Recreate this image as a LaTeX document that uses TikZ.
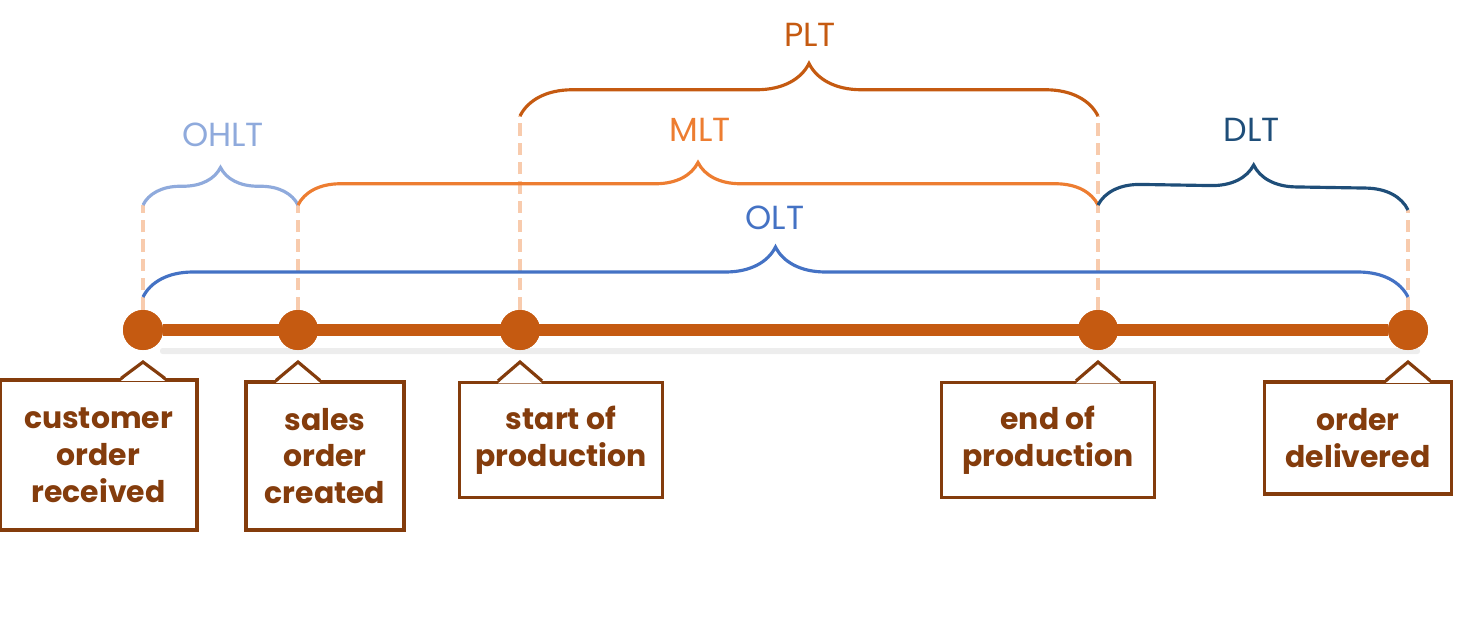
\documentclass[tikz,border=0pt]{standalone}
\usepackage{fontspec}
\setmainfont{Poppins}
\usetikzlibrary{calc,positioning,decorations.pathreplacing}
\definecolor{tline}{HTML}{C55A11}
\definecolor{tbox}{HTML}{843C0C}
\definecolor{peach}{HTML}{F8CBAD}
\definecolor{ohlt}{HTML}{8FAADC}
\definecolor{mlt}{HTML}{ED7D31}
\definecolor{plt}{HTML}{C55A11}
\definecolor{dlt}{HTML}{1F4E79}
\definecolor{olt}{HTML}{4472C4}
\tikzset{
  dot/.style={circle,fill=tline,minimum size=0.8cm,inner sep=0pt},
  box/.style={draw=tbox,line width=1.8pt,fill=white,text=tbox,align=center,
    font=\fontsize{17}{21}\selectfont\bfseries,inner sep=2pt},
  drop/.style={peach,line width=2pt,dash pattern=on 7pt off 4pt},
  span/.style={line width=1.8pt,decorate,decoration={brace,amplitude=#1}},
  tag/.style={font=\fontsize{19}{22}\selectfont}
}
\begin{document}
\begin{tikzpicture}
\useasboundingbox (0,0) rectangle (29.2,12.66);
% shadow and timeline
\fill[black!7,rounded corners=0.05cm] (3.2,5.58) rectangle (28.4,5.7);
\node[dot] (d1) at (2.86,6.06) {};
\node[dot] (d2) at (5.96,6.06) {};
\node[dot] (d3) at (10.4,6.06) {};
\node[dot] (d4) at (21.96,6.06) {};
\node[dot] (d5) at (28.16,6.06) {};
\draw[tline,line width=6.8pt] (d1) -- (d5);
\foreach \i in {1,...,5} \node[dot] at (d\i) {};
% callouts
\node[box,minimum width=3.94cm,minimum height=3cm] (c1) at (1.97,3.56) {customer\\order\\received};
\node[box,minimum width=3.16cm,minimum height=2.96cm] (c2) at (6.5,3.54) {sales\\order\\created};
\node[box,minimum width=4.06cm,minimum height=2.3cm] (c3) at (11.22,3.86) {start of\\production};
\node[box,minimum width=4.26cm,minimum height=2.3cm] (c4) at (20.96,3.86) {end of\\production};
\node[box,minimum width=3.74cm,minimum height=2.24cm] (c5) at (27.16,3.9) {order\\delivered};
\foreach \i in {1,...,5}{
  \fill[white] ($(c\i.north -| d\i)+(-0.44,-0.05)$) -- ($(d\i)+(0,-0.64)$) -- ($(c\i.north -| d\i)+(0.44,-0.05)$) -- cycle;
  \draw[tbox,line width=1.8pt,line join=miter] ($(c\i.north -| d\i)+(-0.44,0)$) -- ($(d\i)+(0,-0.64)$) -- ($(c\i.north -| d\i)+(0.44,0)$);
}
% drop lines
\coordinate (t1) at (2.86,8.56);
\coordinate (u1) at (2.86,6.72);
\coordinate (t2) at (5.96,8.56);
\coordinate (t3) at (10.4,10.34);
\coordinate (t4) at (21.96,10.34);
\coordinate (v4) at (21.96,8.56);
\coordinate (t5) at (28.16,8.46);
\coordinate (u5) at (28.16,6.72);
\foreach \i in {1,...,5} \draw[drop] (d\i) -- (t\i);
% braces
\draw[ohlt,span=0.75cm] (t1) -- (t2);
\draw[mlt,span=0.85cm] (t2) -- (v4);
\draw[plt,span=1.05cm] (t3) -- (t4);
\draw[dlt,span=0.85cm] (v4) -- (t5);
\draw[olt,span=1.0cm] (u1) -- (u5);
\node[tag,text=ohlt] (l1) at (4.46,9.96) {OHLT};
\node[tag,text=mlt] (l2) at (14,10.06) {MLT};
\node[tag,text=plt] (l3) at (16.2,11.96) {PLT};
\node[tag,text=dlt] (l4) at (25.04,10.06) {DLT};
\node[tag,text=olt] (l5) at (15.5,8.3) {OLT};
\end{tikzpicture}
\end{document}
